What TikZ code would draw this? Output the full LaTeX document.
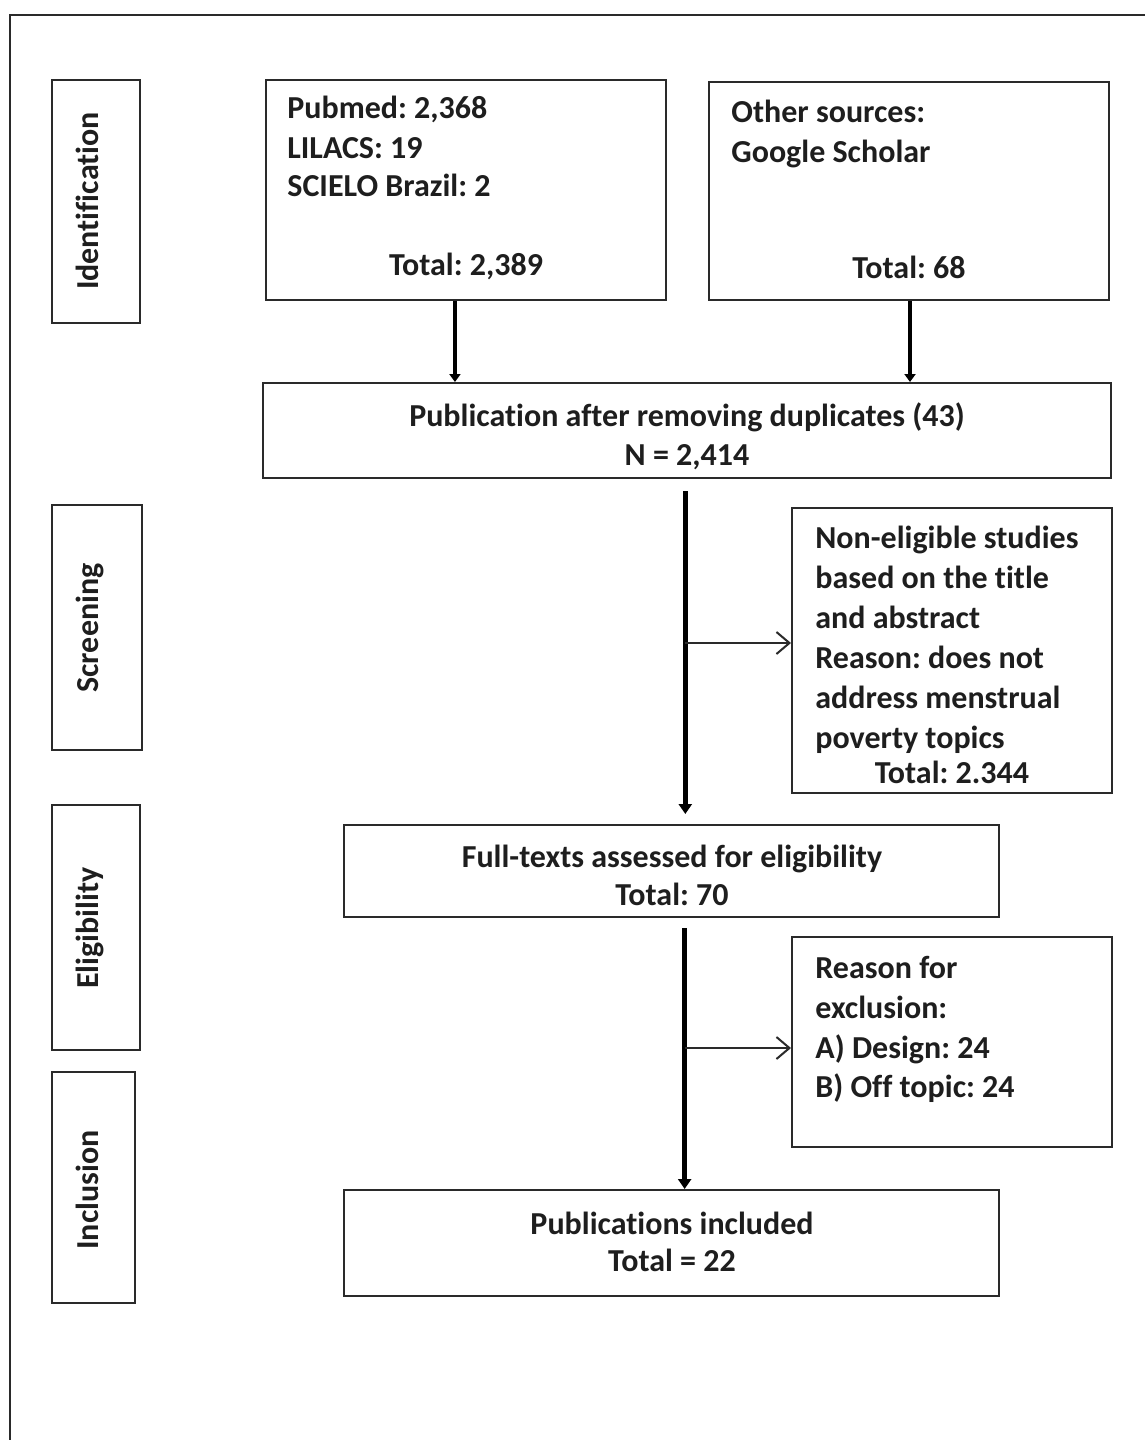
\documentclass[tikz,border=0pt]{standalone}
\usepackage{fontspec}
\setmainfont{Carlito}[RawFeature={-liga;-clig;-dlig}]
\usetikzlibrary{arrows.meta,calc}
\definecolor{linec}{HTML}{2A2A2A}
\definecolor{textc}{HTML}{1E1E1E}
\frenchspacing
\begin{document}
\begin{tikzpicture}[x=0.5pt,y=-0.5pt,
  box/.style={draw=linec, line width=1pt, inner sep=0pt},
  txt/.style={font=\fontsize{16pt}{19.5pt}\selectfont\bfseries, text=textc, inner sep=0pt},
  lab/.style={txt, rotate=90, anchor=base},
  lline/.style={txt, anchor=base west},
  cline/.style={txt, anchor=base},
  bigarr/.style={line width=2.5pt, draw=black, -{Triangle[length=5pt,width=6.5pt]}},
  smallarr/.style={line width=1pt, draw=linec, -{Straight Barb[length=6.5pt,width=11pt,line width=1pt]}}]
\useasboundingbox (0,0) rectangle (1145,1440);
\fill[white] (0,0) rectangle (1145,1440);
\draw[line width=1pt, linec] (1145,15) -- (10,15) -- (10,1440);

% side stage boxes
\node[box, minimum width=44pt, minimum height=121.5pt] (sid) at (96,201.5) {};
\node[box, minimum width=45pt, minimum height=122.5pt] (ssc) at (97,627.5) {};
\node[box, minimum width=44pt, minimum height=122.5pt] (sel) at (96,927.5) {};
\node[box, minimum width=41.5pt, minimum height=115.5pt] (sin) at (93.5,1187.5) {};
\node[lab] (tid) at (98,201) {Identification};
\node[lab] (tsc) at (98,628) {Screening};
\node[lab] (tel) at (98,928) {Eligibility};
\node[lab] (tin) at (98,1190) {Inclusion};

% flow boxes
\node[box, minimum width=200pt, minimum height=110pt] (pub) at (466,190) {};
\node[box, minimum width=200pt, minimum height=109pt] (other) at (909,191) {};
\node[box, minimum width=424pt, minimum height=47.5pt] (dup) at (687,430.5) {};
\node[box, minimum width=160pt, minimum height=142.5pt] (nonel) at (952,650.5) {};
\node[box, minimum width=327.5pt, minimum height=46pt] (full) at (671.5,871) {};
\node[box, minimum width=160pt, minimum height=105pt] (reason) at (952,1042) {};
\node[box, minimum width=327.5pt, minimum height=53pt] (incl) at (671.5,1243) {};

% texts
\node[lline] (p1) at (287,118) {Pubmed: 2,368};
\node[lline] (p2) at (287,158) {LILACS: 19};
\node[lline] (p3) at (287,196) {SCIELO Brazil: 2};
\node[cline] (p4) at (466,275) {Total: 2,389};

\node[lline] (o1) at (731,122) {Other sources:};
\node[lline] (o2) at (731,162) {Google Scholar};
\node[cline] (o3) at (909,278) {Total: 68};

\node[cline] (d1) at (687,426) {Publication after removing duplicates (43)};
\node[cline] (d2) at (687,465) {N = 2,414};

\node[lline] (n1) at (815,548) {Non-eligible studies};
\node[lline] (n2) at (815,588) {based on the title};
\node[lline] (n3) at (815,628) {and abstract};
\node[lline] (n4) at (815,668) {Reason: does not};
\node[lline] (n5) at (815,708) {address menstrual};
\node[lline] (n6) at (815,748) {poverty topics};
\node[cline] (n7) at (952,783) {Total: 2.344};

\node[cline] (f1) at (672,867) {Full-texts assessed for eligibility};
\node[cline] (f2) at (672,905) {Total: 70};

\node[lline] (r1) at (815,978) {Reason for};
\node[lline] (r2) at (815,1018) {exclusion:};
\node[lline] (r3) at (815,1058) {A) Design: 24};
\node[lline] (r4) at (815,1097) {B) Off topic: 24};

\node[cline] (i1) at (672,1234) {Publications included};
\node[cline] (i2) at (672,1271) {Total = 22};

% connectors
\coordinate (pa) at ($(pub.south west)!0.4725!(pub.south east)$);
\coordinate (oa) at ($(other.south west)!0.5025!(other.south east)$);
\draw[line width=2pt, -{Triangle[length=4pt,width=5.5pt]}] (pa) -- (pa |- dup.north);
\draw[line width=2pt, -{Triangle[length=4pt,width=5.5pt]}] (oa) -- (oa |- dup.north);

\coordinate (s1) at ($(dup.south west)!0.498!(dup.south east)+(0,12)$);
\coordinate (s1e) at ($(s1 |- full.north)+(0,-10)$);
\draw[bigarr] (s1) -- (s1e);
\coordinate (b1) at ($(s1 |- nonel.west)+(0,-7.5)$);
\draw[smallarr] (b1) -- (b1 -| nonel.west);

\coordinate (s2) at ($(full.south west)!0.52!(full.south east)+(0,10)$);
\draw[bigarr] (s2) -- (s2 |- incl.north);
\coordinate (b2) at ($(s2 |- reason.west)+(0,6)$);
\draw[smallarr] (b2) -- (b2 -| reason.west);
\end{tikzpicture}
\end{document}
